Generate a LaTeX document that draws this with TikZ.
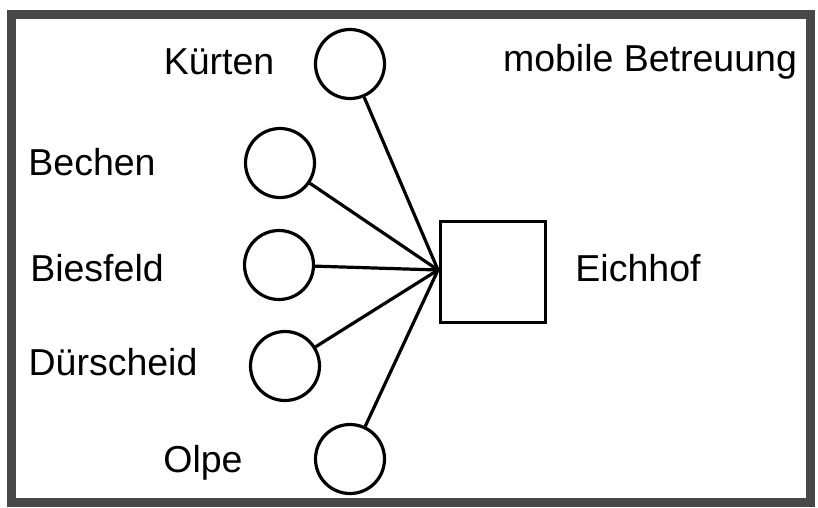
\documentclass[tikz,border=0pt]{standalone}
\usepackage{fontspec}
\setmainfont{Liberation Sans}
\begin{document}
\begin{tikzpicture}[x=1pt,y=-1pt,
  place/.style={circle,draw=black,line width=3.2pt,minimum size=69pt,inner sep=0pt},
  lbl/.style={font=\fontsize{37.5}{42}\selectfont,inner sep=0pt},
  link/.style={line width=3.2pt,black}]
\useasboundingbox (0,0) rectangle (818,507);
\fill[white] (0,0) rectangle (818,507);
\draw[line width=9pt,draw={rgb,255:red,72;green,72;blue,72}] (11.5,14) rectangle (810,502);
\node[place] (k) at (350,64) {};
\node[place] (b) at (280,163) {};
\node[place] (bi) at (279,265) {};
\node[place] (d) at (285,366) {};
\node[place] (o) at (350,459) {};
\node[draw=black,line width=3.2pt,minimum width=105pt,minimum height=101pt,inner sep=0pt] (e) at (493,272) {};
\coordinate (hub) at (438,270);
\draw[link] (k) -- (hub);
\draw[link] (b) -- (hub);
\draw[link] (bi) -- (hub);
\draw[link] (d) -- (hub);
\draw[link] (o) -- (hub);
\node[lbl] (tk) at (219,62) {Kürten};
\node[lbl] (tm) at (650,62) {mobile Betreuung};
\node[lbl] (tb) at (92,162) {Bechen};
\node[lbl] (tbi) at (97,268) {Biesfeld};
\node[lbl] (td) at (113,362) {Dürscheid};
\node[lbl] (to) at (203,463) {Olpe};
\node[lbl] (te) at (638,268) {Eichhof};
\end{tikzpicture}
\end{document}
